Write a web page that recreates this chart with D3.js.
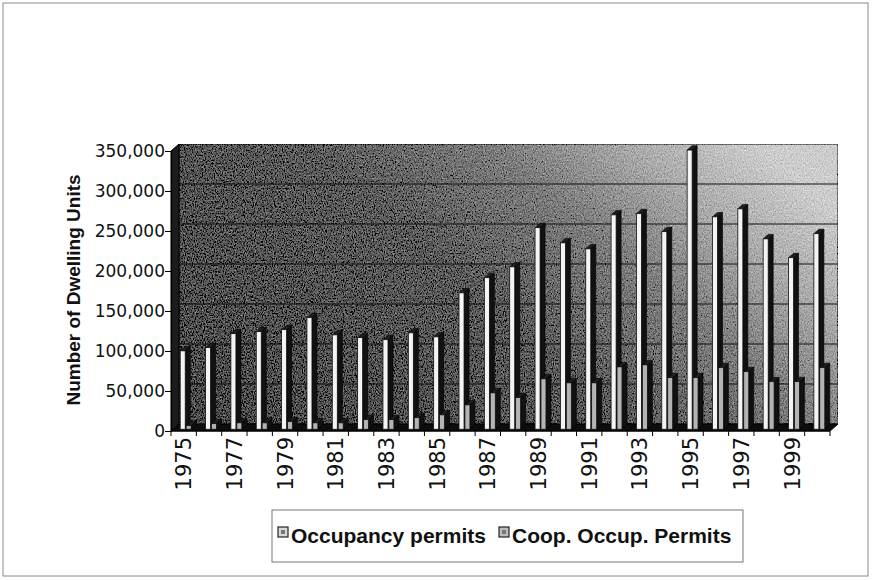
<!DOCTYPE html>
<html>
<head>
<meta charset="utf-8">
<script src="https://cdnjs.cloudflare.com/ajax/libs/d3/7.8.5/d3.min.js"></script>
<style>
  body { margin: 0; background: #fff; }
  svg { display: block; }
</style>
</head>
<body>
<div id="chart"></div>
<script>
var years = ["1975", "1976", "1977", "1978", "1979", "1980", "1981", "1982", "1983",
    "1984", "1985", "1986", "1987", "1988", "1989", "1990", "1991", "1992", "1993",
    "1994", "1995", "1996", "1997", "1998", "1999", "2000"];

var occupancy = [98000, 102000, 119500, 122000, 124500, 139500, 118000, 114500, 112000,
    120500, 115500, 170500, 189500, 203000, 252000, 233000, 225500, 268000, 269500,
    247000, 349000, 265500, 275500, 238000, 214500, 244500];

var coopPermits = [4500, 7000, 8000, 8000, 9500, 8000, 8000, 12000, 12000,
    14500, 18000, 30500, 45500, 39500, 63000, 58000, 58000, 78000, 80500,
    64500, 64500, 77000, 72000, 59500, 59500, 77000];

var yTicks = [0, 50000, 100000, 150000, 200000, 250000, 300000, 350000];
var seriesNames = ["Occupancy permits", "Coop. Occup. Permits"];

var width = 872,
    height = 580;

var svg = d3.select("#chart")
    .append("svg")
    .attr("width", width)
    .attr("height", height);

// front plane of the 3d box
var plotLeft = 171, plotRight = 830, plotBottom = 431, plotTop = 151;
// depth of the floor / walls
var depthX = 8, depthY = 7;

var x = d3.scaleBand().domain(years).range([plotLeft, plotRight]);
var y = d3.scaleLinear().domain([0, 350000]).range([plotBottom, plotTop]);
var xs = d3.scaleBand().domain(seriesNames)
    .range([0, x.bandwidth()])
    .paddingInner(0.15)
    .paddingOuter(1.22);

// outer frame
svg.append("rect")
    .attr("x", 3).attr("y", 3)
    .attr("width", 865).attr("height", 573)
    .attr("fill", "none")
    .attr("stroke", "#8a8a8a")
    .attr("stroke-width", 1);

var defs = svg.append("defs");

var grad = defs.append("linearGradient")
    .attr("id", "wallGrad")
    .attr("x1", 0).attr("y1", 0.75)
    .attr("x2", 1).attr("y2", 0.25);
[[0, "#4e4e4e"], [0.45, "#5c5c5c"], [0.68, "#7e7e7e"], [0.84, "#aaaaaa"], [1, "#cdcdcd"]]
    .forEach(function (s) {
        grad.append("stop").attr("offset", s[0]).attr("stop-color", s[1]);
    });

// speckle like the scanned original
var grain = defs.append("filter")
    .attr("id", "grain")
    .attr("x", 0).attr("y", 0).attr("width", 1).attr("height", 1);
grain.append("feTurbulence")
    .attr("type", "fractalNoise")
    .attr("baseFrequency", "0.9 0.6")
    .attr("numOctaves", 2)
    .attr("seed", 4)
    .attr("result", "noise");
grain.append("feColorMatrix")
    .attr("in", "noise")
    .attr("type", "matrix")
    .attr("values", "0.33 0.33 0.33 0 0  0.33 0.33 0.33 0 0  0.33 0.33 0.33 0 0  0 0 0 0 1")
    .attr("result", "gray");
grain.append("feComposite")
    .attr("in", "SourceGraphic")
    .attr("in2", "gray")
    .attr("operator", "arithmetic")
    .attr("k1", 0).attr("k2", 1).attr("k3", 1.0).attr("k4", -0.5)
    .attr("result", "mixed");
grain.append("feComposite")
    .attr("in", "mixed")
    .attr("in2", "SourceGraphic")
    .attr("operator", "in");

// back wall
svg.append("rect")
    .attr("x", plotLeft + depthX)
    .attr("y", plotTop - depthY)
    .attr("width", plotRight - plotLeft)
    .attr("height", plotBottom - plotTop)
    .attr("fill", "url(#wallGrad)")
    .attr("filter", "url(#grain)")
    .attr("stroke", "#111")
    .attr("stroke-width", 1);

// left wall
svg.append("polygon")
    .attr("points", [
        [plotLeft, plotBottom], [plotLeft + depthX, plotBottom - depthY],
        [plotLeft + depthX, plotTop - depthY], [plotLeft, plotTop]
    ].join(" "))
    .attr("fill", "#1c1c1c")
    .attr("stroke", "#000");

// gridlines on back wall
var grid = svg.append("g");
grid.selectAll("line.back")
    .data(yTicks.filter(function (d) { return d > 0 && d < 350000; }))
    .enter().append("line")
    .attr("class", "back")
    .attr("x1", plotLeft + depthX).attr("x2", plotRight + depthX)
    .attr("y1", function (d) { return y(d) - depthY; })
    .attr("y2", function (d) { return y(d) - depthY; })
    .attr("stroke", "#111")
    .attr("stroke-width", 1.2);

// floor
svg.append("polygon")
    .attr("points", [
        [plotLeft, plotBottom], [plotRight, plotBottom],
        [plotRight + depthX, plotBottom - depthY], [plotLeft + depthX, plotBottom - depthY]
    ].join(" "))
    .attr("fill", "#0d0d0d")
    .attr("stroke", "#000");

// bars
var barData = [];
years.forEach(function (yr, i) {
    barData.push({ year: yr, s: seriesNames[0], v: occupancy[i] });
    barData.push({ year: yr, s: seriesNames[1], v: coopPermits[i] });
});

var offX = 2, offY = 1.75;   // bars stand a little behind the front edge
var barDX = 5, barDY = 4.4;  // depth of a bar

var bars = svg.append("g")
    .selectAll("g")
    .data(barData)
    .enter().append("g");

bars.each(function (d) {
    var g = d3.select(this);
    var x0 = x(d.year) + xs(d.s) + offX,
        x1 = x0 + xs.bandwidth(),
        yb = y(0) - offY,
        yt = y(d.v) - offY;
    var front = d.s === seriesNames[0] ? "#f4f4f4" : "#b4b4b4";

    g.append("polygon")
        .attr("points", [[x1, yb], [x1 + barDX, yb - barDY], [x1 + barDX, yt - barDY], [x1, yt]].join(" "))
        .attr("fill", "#111")
        .attr("stroke", "#000")
        .attr("stroke-width", 0.6);
    g.append("polygon")
        .attr("points", [[x0, yt], [x1, yt], [x1 + barDX, yt - barDY], [x0 + barDX, yt - barDY]].join(" "))
        .attr("fill", "#1e1e1e")
        .attr("stroke", "#000")
        .attr("stroke-width", 0.6);
    g.append("rect")
        .attr("x", x0)
        .attr("y", yt)
        .attr("width", x1 - x0)
        .attr("height", yb - yt)
        .attr("fill", front)
        .attr("stroke", "#111")
        .attr("stroke-width", 0.8);
});

// y axis
var yAxis = svg.append("g")
    .attr("transform", "translate(" + plotLeft + ",0)")
    .call(d3.axisLeft(y).tickValues(yTicks).tickFormat(d3.format(",")).tickSize(6).tickSizeOuter(0));
yAxis.select(".domain").attr("stroke", "#000").attr("stroke-width", 1.2);
yAxis.selectAll(".tick line").attr("stroke", "#000");
yAxis.selectAll(".tick text")
    .attr("x", -6)
    .style("font-family", "'DejaVu Sans', Verdana, sans-serif")
    .style("font-size", "17px")
    .attr("fill", "#111");

// x axis: ticks between years, labels every other year
var xAxis = svg.append("g");
xAxis.append("line")
    .attr("x1", plotLeft).attr("x2", plotRight)
    .attr("y1", plotBottom).attr("y2", plotBottom)
    .attr("stroke", "#000").attr("stroke-width", 1.2);
xAxis.selectAll("line.tick")
    .data(years.concat(["end"]))
    .enter().append("line")
    .attr("class", "tick")
    .attr("x1", function (d) { return d === "end" ? plotRight : x(d); })
    .attr("x2", function (d) { return d === "end" ? plotRight : x(d); })
    .attr("y1", plotBottom).attr("y2", plotBottom + 5)
    .attr("stroke", "#000");
xAxis.selectAll("text")
    .data(years.filter(function (d, i) { return i % 2 === 0; }))
    .enter().append("text")
    .attr("transform", function (d) {
        return "translate(" + (x(d) + x.bandwidth() / 2) + "," + (plotBottom + 6) + ") rotate(-90)";
    })
    .attr("dy", "0.36em")
    .attr("text-anchor", "end")
    .style("font-family", "'DejaVu Sans', Verdana, sans-serif")
    .style("font-size", "21px")
    .attr("fill", "#111")
    .text(function (d) { return d; });

// y axis title
svg.append("text")
    .attr("transform", "translate(80," + 290 + ") rotate(-90)")
    .attr("text-anchor", "middle")
    .style("font-family", "'Liberation Sans', Arial, sans-serif")
    .style("font-weight", "bold")
    .style("font-size", "19px")
    .attr("fill", "#111")
    .text("Number of Dwelling Units");

// legend
var legend = svg.append("g");
legend.append("rect")
    .attr("x", 272).attr("y", 510)
    .attr("width", 471).attr("height", 52)
    .attr("fill", "#fff")
    .attr("stroke", "#777")
    .attr("stroke-width", 1);

var legendX = [278, 499];
var legendItem = legend.selectAll("g.item")
    .data(seriesNames)
    .enter().append("g")
    .attr("class", "item")
    .attr("transform", function (d, i) { return "translate(" + legendX[i] + ",527)"; });
legendItem.append("rect")
    .attr("width", 10).attr("height", 10)
    .attr("fill", function (d, i) { return i === 0 ? "#d8d8d8" : "#bdbdbd"; })
    .attr("stroke", "#222")
    .attr("stroke-width", 1.2);
legendItem.append("rect")
    .attr("x", 3).attr("y", 3)
    .attr("width", 4).attr("height", 4)
    .attr("fill", "#777");
legendItem.append("text")
    .attr("x", 13)
    .attr("y", 16)
    .style("font-family", "'Liberation Sans', Arial, sans-serif")
    .style("font-weight", "bold")
    .style("font-size", "21px")
    .attr("fill", "#111")
    .text(function (d) { return d; });
</script>
</body>
</html>
